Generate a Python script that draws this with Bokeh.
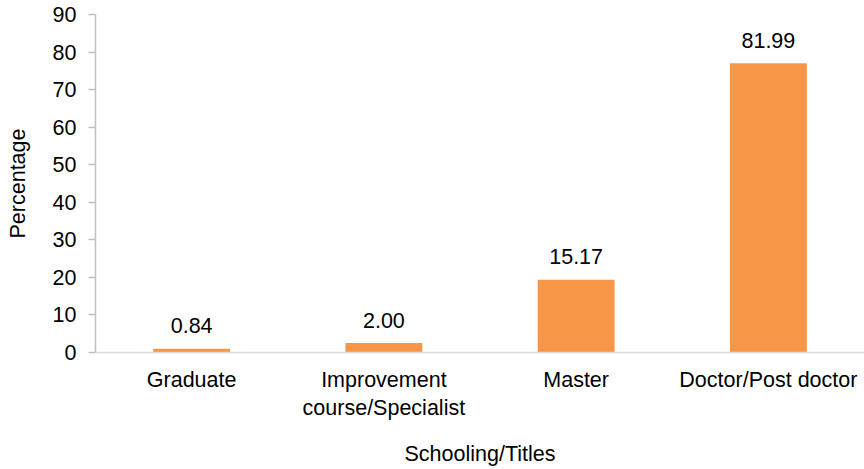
from bokeh.plotting import figure
from bokeh.models import ColumnDataSource, FactorRange, Range1d, FixedTicker
from bokeh.core.properties import value
from bokeh.embed import file_html
from bokeh.resources import INLINE

categories = ["Graduate", "Improvement\ncourse/Specialist", "Master", "Doctor/Post doctor"]
bar_heights = [1.0, 2.5, 19.4, 77.0]
bar_labels = ["0.84", "2.00", "15.17", "81.99"]
y_ticks = [0, 10, 20, 30, 40, 50, 60, 70, 80, 90]

FONT = "Liberation Sans"
FS = "21.5px"

src = ColumnDataSource(data=dict(cat=categories, h=bar_heights, lab=bar_labels))

p = figure(
    x_range=FactorRange(*categories, range_padding=0),
    y_range=Range1d(0, 90),
    width=864, height=469,
    output_backend="svg", toolbar_location=None,
    min_border_left=95, min_border_right=0, min_border_top=14, min_border_bottom=117,
)
p.outline_line_color = None
p.background_fill_color = "white"
p.border_fill_color = "white"

p.vbar(x="cat", top="h", width=0.4, source=src, color="#F79646", line_color=None)
p.text(x="cat", y="h", text="lab", source=src, text_align="center",
       text_baseline="alphabetic", y_offset=-23, text_font=value(FONT),
       text_font_size=FS, text_color="#000000")

p.xgrid.visible = False
p.ygrid.visible = False

# y axis
ya = p.yaxis[0]
ya.ticker = FixedTicker(ticks=y_ticks)
ya.axis_line_color = "#BFBFBF"
ya.axis_line_width = 1.5
ya.major_tick_line_color = "#BFBFBF"
ya.major_tick_line_width = 1.5
ya.major_tick_out = 7
ya.major_tick_in = 0
ya.minor_tick_line_color = None
ya.major_label_standoff = 12
ya.major_label_text_font = FONT
ya.major_label_text_font_size = FS
ya.major_label_text_color = "#000000"
ya.axis_label = "Percentage"
ya.axis_label_text_font = FONT
ya.axis_label_text_font_size = FS
ya.axis_label_text_font_style = "normal"
ya.axis_label_text_color = "#000000"
ya.axis_label_standoff = 20

# x axis
xa = p.xaxis[0]
xa.axis_line_color = "#D9D9D9"
xa.axis_line_width = 1.5
xa.major_tick_line_color = None
xa.minor_tick_line_color = None
xa.major_label_standoff = 9
xa.major_label_text_font = FONT
xa.major_label_text_font_size = FS
xa.major_label_text_color = "#000000"
xa.major_label_text_align = "center"
xa.axis_label = "Schooling/Titles"
xa.axis_label_text_font = FONT
xa.axis_label_text_font_size = FS
xa.axis_label_text_font_style = "normal"
xa.axis_label_text_color = "#000000"
xa.axis_label_standoff = 19

open("out.html", "w").write(file_html(p, INLINE))
